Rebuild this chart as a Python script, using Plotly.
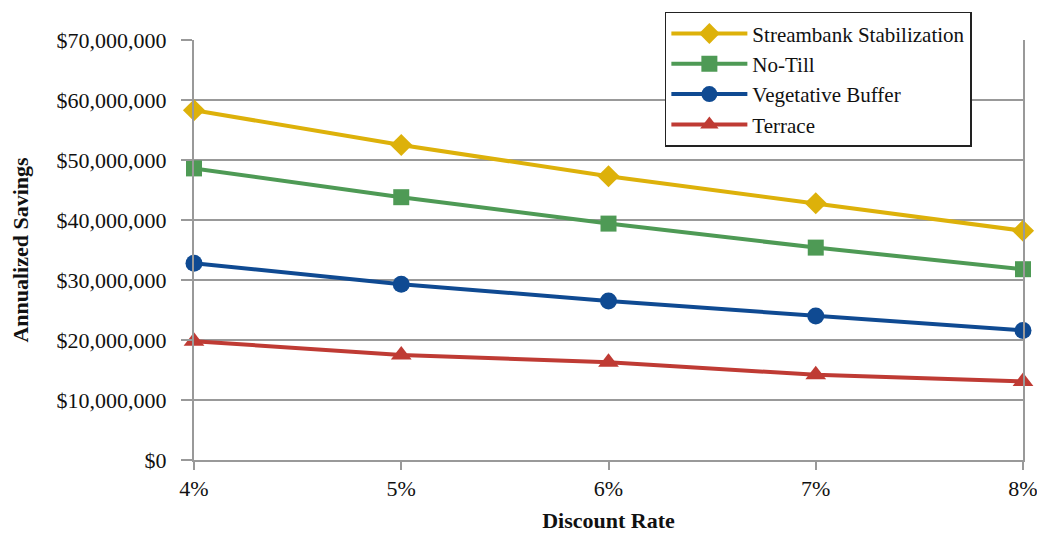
import plotly.graph_objects as go

# Discount rates (%) and annualized savings (USD) per practice
rates = [4, 5, 6, 7, 8]
streambank = [58300000, 52500000, 47300000, 42800000, 38200000]
no_till = [48600000, 43800000, 39400000, 35400000, 31800000]
vegetative = [32800000, 29300000, 26500000, 24000000, 21600000]
terrace = [19800000, 17500000, 16300000, 14200000, 13100000]

series = [
    ("Streambank Stabilization", streambank, "#DDB10A", "diamond", 17),
    ("No-Till", no_till, "#4E9A55", "square", 16),
    ("Vegetative Buffer", vegetative, "#0F4A92", "circle", 17),
    ("Terrace", terrace, "#BF3B34", "triangle-up", 18),
]

FONT = "Liberation Serif, serif"
GRID = "#999999"

fig = go.Figure()
for name, vals, color, symbol, size in series:
    fig.add_trace(go.Scatter(
        x=rates, y=vals, name=name, mode="lines+markers",
        line=dict(color=color, width=4),
        marker=dict(symbol=symbol, size=size, color=color, line=dict(width=0)),
        cliponaxis=False,
    ))

fig.update_layout(
    width=1037, height=533,
    margin=dict(l=194, r=14, t=40, b=73, autoexpand=False),
    paper_bgcolor="white", plot_bgcolor="white",
    font=dict(family=FONT, size=22, color="#111111"),
    showlegend=True,
    legend=dict(
        x=0.568, y=1.067, xanchor="left", yanchor="top",
        bgcolor="white", bordercolor="#222222", borderwidth=1.5,
        font=dict(family=FONT, size=21, color="#111111"),
        tracegroupgap=0, itemwidth=76,
    ),
    xaxis=dict(
        range=[4, 8], tickvals=rates, ticktext=[f"{r}%" for r in rates],
        showgrid=False, zeroline=False, automargin=False,
        showline=True, linecolor=GRID, linewidth=2,
        ticks="outside", ticklen=8, tickcolor=GRID, tickwidth=1.5,
        ticklabeloverflow="allow",
        title=dict(text="<b>Discount Rate</b>", font=dict(family=FONT, size=22), standoff=26),
    ),
    yaxis=dict(
        range=[0, 70000000], dtick=10000000,
        tickprefix="$", tickformat=",d",
        showgrid=True, gridcolor=GRID, gridwidth=1.5,
        zeroline=False, automargin=False,
        showline=True, linecolor=GRID, linewidth=2, mirror=True,
        ticks="outside", ticklen=11, tickcolor=GRID, tickwidth=1.5,
        ticklabelstandoff=10,
        title=dict(text="<b>Annualized Savings</b>", font=dict(family=FONT, size=22), standoff=22),
    ),
)

fig.write_html("out.html")
